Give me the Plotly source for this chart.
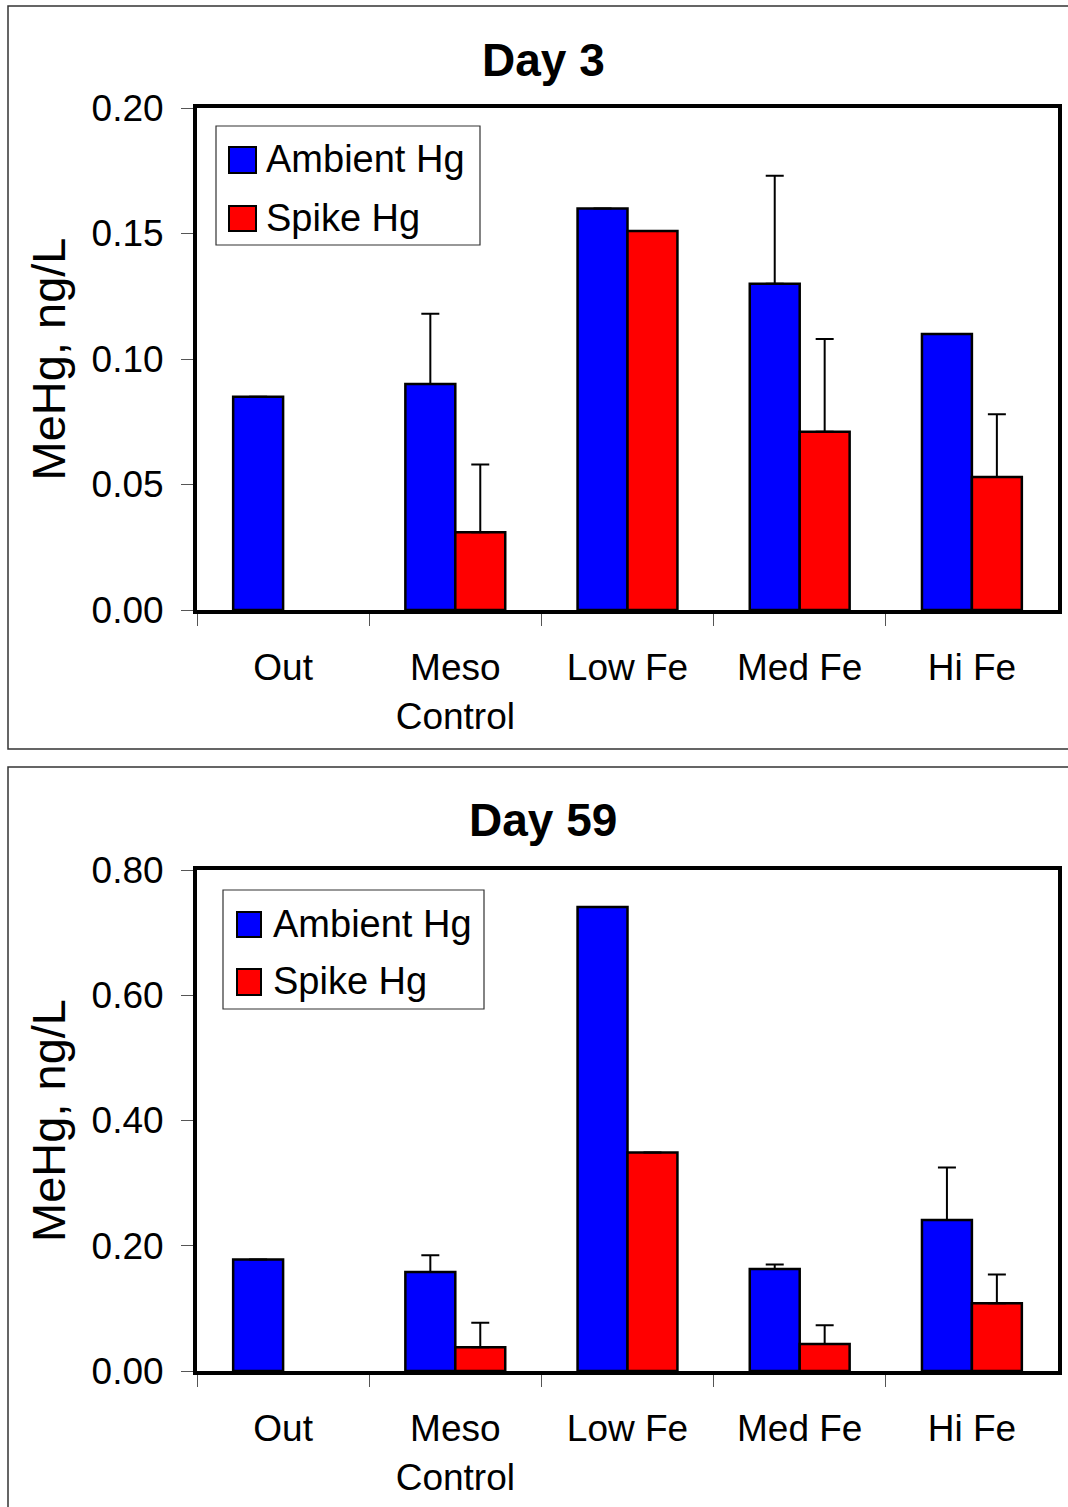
import plotly.graph_objects as go

W, H = 1068, 1507
FONT = "Arial, 'Liberation Sans', sans-serif"

# ---- data -------------------------------------------------------------
categories = ["Out", "Meso<br>Control", "Low Fe", "Med Fe", "Hi Fe"]
series_names = ["Ambient Hg", "Spike Hg"]
series_colors = ["#0000FF", "#FF0000"]

day3_ambient = [0.085, 0.090, 0.160, 0.130, 0.110]
day3_ambient_err = [0.0, 0.028, 0.0, 0.043, 0.0]
day3_spike = [None, 0.031, 0.151, 0.071, 0.053]
day3_spike_err = [None, 0.027, 0.0, 0.037, 0.025]
day3_ticks = [0.00, 0.05, 0.10, 0.15, 0.20]

day59_ambient = [0.178, 0.158, 0.741, 0.163, 0.241]
day59_ambient_err = [0.0, 0.027, 0.0, 0.007, 0.084]
day59_spike = [None, 0.038, 0.349, 0.043, 0.108]
day59_spike_err = [None, 0.039, 0.0, 0.030, 0.046]
day59_ticks = [0.00, 0.20, 0.40, 0.60, 0.80]

panel_titles = ["Day 3", "Day 59"]
y_title = "MeHg, ng/L"

# ---- layout geometry (pixels) ----------------------------------------
def px(x):
    return x / W


def py(y):
    return 1 - y / H


panels = [
    dict(
        ambient=day3_ambient, ambient_err=day3_ambient_err,
        spike=day3_spike, spike_err=day3_spike_err, ticks=day3_ticks,
        frame=(8, 6, 749), plot=(108, 610), title_y=60,
        legend_box=(216, 126, 480, 245), sq_x=(229, 256),
        sq_y=[(147, 173), (206, 231)], text_x=264,
    ),
    dict(
        ambient=day59_ambient, ambient_err=day59_ambient_err,
        spike=day59_spike, spike_err=day59_spike_err, ticks=day59_ticks,
        frame=(8, 767, 1540), plot=(870, 1371), title_y=820,
        legend_box=(223, 890, 484, 1009), sq_x=(237, 261),
        sq_y=[(912, 937), (969, 995)], text_x=271,
    ),
]

PLOT_X0, PLOT_X1 = 197, 1058

fig = go.Figure()
shapes = []
annotations = []

for i, p in enumerate(panels):
    n = "" if i == 0 else str(i + 1)
    xa, ya = "x" + n, "y" + n
    values = [p["ambient"], p["spike"]]
    errors = [p["ambient_err"], p["spike_err"]]
    for k in range(2):
        fig.add_trace(go.Bar(
            x=categories, y=values[k], name=series_names[k],
            marker=dict(color=series_colors[k], line=dict(color="black", width=2.5)),
            error_y=dict(type="data", array=errors[k], symmetric=False,
                         arrayminus=[0] * len(categories),
                         color="black", thickness=2, width=9),
            xaxis=xa, yaxis=ya, showlegend=False,
        ))

    top, bottom = p["plot"]
    axis_common = dict(showline=True, mirror=True, linewidth=4, linecolor="black",
                       ticks="outside", ticklen=12, tickwidth=1, tickcolor="#555",
                       showgrid=False, zeroline=False, automargin=False,
                       tickfont=dict(family=FONT, size=37, color="black"))
    fig.update_layout(**{
        "xaxis" + n: dict(domain=[px(PLOT_X0), px(PLOT_X1)], anchor=ya,
                          type="category", tickson="boundaries",
                          ticklabelstandoff=22, **axis_common),
        "yaxis" + n: dict(domain=[py(bottom), py(top)], anchor=xa,
                          range=[0, p["ticks"][-1]], tickvals=p["ticks"],
                          tickformat=".2f", ticklabelstandoff=10,
                          title=dict(text=y_title, standoff=12,
                                     font=dict(family=FONT, size=47, color="black")),
                          **axis_common),
    })

    # panel frame
    fx, fy0, fy1 = p["frame"]
    shapes.append(dict(type="rect", xref="paper", yref="paper",
                       x0=px(fx), x1=1.05, y0=py(fy1), y1=py(fy0),
                       line=dict(color="#333", width=1.5), layer="below"))

    # panel title
    annotations.append(dict(text="<b>" + panel_titles[i] + "</b>", xref="paper", yref="paper",
                            x=px(543), y=py(p["title_y"]), xanchor="center", yanchor="middle",
                            showarrow=False, font=dict(family=FONT, size=46, color="black")))

    # legend
    lx0, ly0, lx1, ly1 = p["legend_box"]
    shapes.append(dict(type="rect", xref="paper", yref="paper",
                       x0=px(lx0), x1=px(lx1), y0=py(ly1), y1=py(ly0),
                       line=dict(color="#333", width=1.2), fillcolor="white"))
    for k in range(2):
        s0, s1 = p["sq_y"][k]
        shapes.append(dict(type="rect", xref="paper", yref="paper",
                           x0=px(p["sq_x"][0]), x1=px(p["sq_x"][1]),
                           y0=py(s1), y1=py(s0),
                           line=dict(color="black", width=2),
                           fillcolor=series_colors[k]))
        annotations.append(dict(text=series_names[k], xref="paper", yref="paper",
                                x=px(p["text_x"]), y=py((s0 + s1) / 2 - 1),
                                xanchor="left", yanchor="middle", showarrow=False,
                                font=dict(family=FONT, size=38, color="black")))

fig.update_layout(
    width=W, height=H,
    margin=dict(l=0, r=0, t=0, b=0, autoexpand=False),
    paper_bgcolor="white", plot_bgcolor="white",
    barmode="group", bargap=0.42, bargroupgap=0,
    font=dict(family=FONT, color="black"),
    shapes=shapes, annotations=annotations,
)

fig.write_html("out.html")
